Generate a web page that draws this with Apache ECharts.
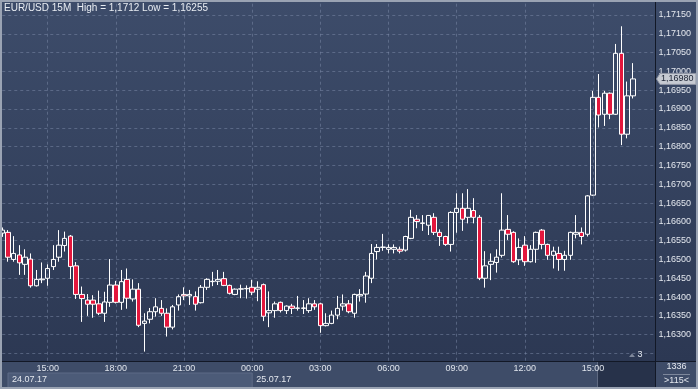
<!DOCTYPE html>
<html><head><meta charset="utf-8">
<script src="https://cdn.jsdelivr.net/npm/echarts@6/dist/echarts.min.js"></script>
<style>html,body{margin:0;padding:0;background:#3e4c68;}#c{width:698px;height:389px;}</style>
</head><body><div id="c"></div>
<script>
// ---- data ----
const startHour = 13;          // first candle 24.07.17 13:00
const stepMinutes = 15;
const slotCount = 116;         // 112 candles + 4 empty slots on the right
const opens = [1.16570,1.16572,1.16500,1.16512,1.16487,1.16501,1.16430,1.16446,1.16450,1.16481,
1.16506,1.16537,1.16562,1.16483,1.16407,1.16392,1.16392,1.16382,1.16357,1.16386,
1.16432,1.16386,1.16447,1.16395,1.16421,1.16330,1.16341,1.16361,1.16370,1.16357,
1.16320,1.16379,1.16407,1.16403,1.16401,1.16385,1.16426,1.16441,1.16442,1.16449,
1.16431,1.16407,1.16421,1.16422,1.16426,1.16421,1.16433,1.16358,1.16364,1.16386,
1.16364,1.16376,1.16370,1.16370,1.16364,1.16382,1.16382,1.16324,1.16330,1.16352,
1.16376,1.16382,1.16357,1.16403,1.16408,1.16450,1.16521,1.16532,1.16527,1.16527,
1.16527,1.16525,1.16556,1.16607,1.16596,1.16591,1.16612,1.16572,1.16561,1.16540,
1.16625,1.16636,1.16612,1.16630,1.16612,1.16450,1.16487,1.16492,1.16511,1.16580,
1.16572,1.16499,1.16538,1.16494,1.16527,1.16578,1.16540,1.16511,1.16516,1.16500,
1.16511,1.16567,1.16572,1.16567,1.16671,1.16931,1.16886,1.16942,1.16886,1.17048,
1.16833,1.16935];
const closes = [1.16578,1.16506,1.16516,1.16491,1.16506,1.16430,1.16447,1.16448,1.16476,1.16500,
1.16538,1.16556,1.16481,1.16407,1.16396,1.16381,1.16381,1.16357,1.16387,1.16432,
1.16386,1.16441,1.16397,1.16421,1.16325,1.16336,1.16361,1.16374,1.16357,1.16320,
1.16374,1.16401,1.16403,1.16407,1.16381,1.16426,1.16447,1.16442,1.16447,1.16431,
1.16410,1.16421,1.16422,1.16423,1.16413,1.16426,1.16349,1.16364,1.16382,1.16364,
1.16376,1.16370,1.16371,1.16371,1.16382,1.16374,1.16324,1.16330,1.16352,1.16370,
1.16382,1.16361,1.16407,1.16407,1.16456,1.16516,1.16532,1.16533,1.16532,1.16532,
1.16522,1.16561,1.16612,1.16601,1.16597,1.16617,1.16572,1.16561,1.16540,1.16625,
1.16636,1.16607,1.16636,1.16612,1.16450,1.16483,1.16495,1.16506,1.16578,1.16567,
1.16494,1.16532,1.16494,1.16527,1.16572,1.16540,1.16511,1.16522,1.16500,1.16511,
1.16572,1.16572,1.16561,1.16669,1.16931,1.16884,1.16942,1.16886,1.17048,1.16833,
1.16935,1.16980];
const lows = [1.16560,1.16494,1.16494,1.16459,1.16459,1.16425,1.16428,1.16437,1.16430,1.16472,
1.16494,1.16521,1.16448,1.16395,1.16334,1.16350,1.16345,1.16352,1.16334,1.16374,
1.16383,1.16366,1.16369,1.16388,1.16320,1.16255,1.16330,1.16348,1.16350,1.16295,
1.16314,1.16364,1.16392,1.16379,1.16364,1.16383,1.16419,1.16429,1.16432,1.16429,
1.16407,1.16405,1.16397,1.16396,1.16405,1.16389,1.16336,1.16320,1.16345,1.16359,
1.16355,1.16355,1.16364,1.16355,1.16358,1.16366,1.16305,1.16322,1.16328,1.16341,
1.16364,1.16357,1.16345,1.16388,1.16385,1.16437,1.16500,1.16523,1.16516,1.16516,
1.16516,1.16521,1.16554,1.16583,1.16576,1.16565,1.16565,1.16536,1.16536,1.16521,
1.16571,1.16576,1.16596,1.16596,1.16445,1.16425,1.16445,1.16465,1.16505,1.16552,
1.16491,1.16485,1.16483,1.16492,1.16491,1.16527,1.16499,1.16476,1.16470,1.16470,
1.16499,1.16556,1.16540,1.16561,1.16669,1.16851,1.16855,1.16873,1.16884,1.16804,
1.16822,1.16928];
const highs = [1.16585,1.16578,1.16562,1.16538,1.16527,1.16516,1.16472,1.16492,1.16487,1.16538,
1.16578,1.16574,1.16565,1.16493,1.16428,1.16408,1.16405,1.16417,1.16414,1.16501,
1.16443,1.16472,1.16476,1.16447,1.16437,1.16357,1.16371,1.16397,1.16392,1.16370,
1.16379,1.16407,1.16426,1.16419,1.16415,1.16432,1.16450,1.16467,1.16472,1.16467,
1.16433,1.16423,1.16433,1.16431,1.16446,1.16442,1.16436,1.16415,1.16388,1.16388,
1.16378,1.16382,1.16403,1.16392,1.16397,1.16392,1.16385,1.16357,1.16364,1.16403,
1.16407,1.16392,1.16409,1.16421,1.16467,1.16541,1.16541,1.16568,1.16540,1.16540,
1.16534,1.16563,1.16632,1.16618,1.16618,1.16618,1.16623,1.16580,1.16563,1.16628,
1.16676,1.16676,1.16687,1.16663,1.16618,1.16522,1.16516,1.16527,1.16676,1.16618,
1.16575,1.16556,1.16562,1.16538,1.16574,1.16581,1.16542,1.16534,1.16534,1.16523,
1.16574,1.16618,1.16585,1.16671,1.16948,1.16993,1.16948,1.16944,1.17073,1.17120,
1.16973,1.17022];
const yTicks = [1.1630,1.1635,1.1640,1.1645,1.1650,1.1655,1.1660,1.1665,1.1670,1.1675,
1.1680,1.1685,1.1690,1.1695,1.1700,1.1705,1.1710,1.1715];
const timeTicks = ['15:00','18:00','21:00','00:00','03:00','06:00','09:00','12:00'];
const dateLabels = ['24.07.17','25.07.17'];
const titleText = 'EUR/USD 15M  High = 1,1712 Low = 1,16255';
const lastPrice = closes[closes.length - 1];
const barCount = 1336, barsShown = 115, scaleNote = '3';

// ---- build ----
function pad(n){return (n<10?'0':'')+n;}
const categories = [];
for (let i = 0; i < slotCount; i++) {
  const m = startHour*60 + i*stepMinutes;
  categories.push(pad(Math.floor(m/60)%24) + ':' + pad(m%60));
}
const candles = opens.map((o,i)=>[o, closes[i], lows[i], highs[i]]);
const fmtPrice = v => v.toFixed(5).replace('.', ',');
const isTick = v => yTicks.some(t => Math.abs(t - v) < 1e-7);
const isTimeTick = (idx, val) => timeTicks.indexOf(categories[idx]) >= 0;

const Y_MIN = 1.1623, Y_MAX = 1.1718, Y_STEP = 0.0001;
const GRID_COLOR = 'rgba(125,140,170,0.5)';
const NONE = 'rgba(0,0,0,0)';
// split lines every Y_STEP from Y_MIN; only those on a yTicks value are coloured
const splitColors = [];
for (let k = 0; k < 5; k++) splitColors.push(isTick(+(Y_MIN + k*Y_STEP).toFixed(4)) || isTick(+(Y_MIN + (k+5)*Y_STEP).toFixed(4)) ? GRID_COLOR : NONE);

const FONT = 'Liberation Sans';
const chart = echarts.init(document.getElementById('c'), null, {renderer:'canvas'});
chart.setOption({
  animation: false,
  backgroundColor: '#3e4c68',
  grid: {left: 2.26, right: 42.5, top: 3.7, bottom: 28, containLabel: false, outerBoundsMode: 'none'},
  xAxis: {
    type: 'category', data: categories, boundaryGap: false,
    axisLine: {show: false}, axisTick: {show: false},
    axisLabel: {interval: isTimeTick, color: '#dfe4ec', fontSize: 9, fontFamily: FONT, margin: 3},
    splitLine: {show: true, interval: isTimeTick, lineStyle: {color: GRID_COLOR, type: [3,3], width: 1}}
  },
  yAxis: {
    type: 'value', position: 'right', min: Y_MIN, max: Y_MAX, interval: Y_STEP,
    axisLine: {show: false}, axisTick: {show: false},
    splitLine: {show: true, lineStyle: {color: splitColors, type: [3,3], width: 1}},
    axisLabel: {color: '#e3e7ee', fontSize: 9, fontFamily: FONT, margin: 3,
      formatter: v => isTick(v) ? fmtPrice(v) : ''}
  },
  series: [{
    type: 'candlestick', data: candles, barWidth: 5, z: 2,
    itemStyle: {color: NONE, color0: '#e3173d', borderColor: '#ffffff', borderColor0: '#ffffff', borderWidth: 1}
  }]
});

const tagY = chart.convertToPixel({yAxisIndex: 0}, lastPrice);
const dayX = chart.convertToPixel({xAxisIndex: 0}, categories.indexOf('00:00'));
chart.setOption({
  graphic: [
    {type:'rect', z:-10, silent:true, shape:{x:0,y:0,width:698,height:361},
      style:{fill: new echarts.graphic.LinearGradient(0,0,0,1,[{offset:0,color:'#3d4c6a'},{offset:1,color:'#2c3853'}])}},
    {type:'rect', z:-9, silent:true, shape:{x:0,y:361,width:698,height:28}, style:{fill:'#3e4c68'}},
    {type:'rect', z:-8, silent:true, shape:{x:8,y:373,width:dayX-8,height:15}, style:{fill:'#4c5b78', stroke:'#5d6b86', lineWidth:1}},
    {type:'rect', z:-8, silent:true, shape:{x:597,y:361,width:58,height:27}, style:{fill:'#27324a'}},
    {type:'line', z:-7, silent:true, shape:{x1:597.5,y1:361,x2:597.5,y2:388}, style:{stroke:'#5f6a82', lineWidth:1}},
    {type:'line', z:5, silent:true, shape:{x1:0,y1:361.5,x2:698,y2:361.5}, style:{stroke:'#121826', lineWidth:1}},
    {type:'line', z:5, silent:true, shape:{x1:655.5,y1:0,x2:655.5,y2:389}, style:{stroke:'#121826', lineWidth:1}},
    {type:'text', z:6, silent:true, x:12, y:380, style:{text:dateLabels[0], fill:'#e3e7ee', font:'9px '+FONT, verticalAlign:'middle'}},
    {type:'text', z:6, silent:true, x:dayX+4, y:380, style:{text:dateLabels[1], fill:'#e3e7ee', font:'9px '+FONT, verticalAlign:'middle'}},
    {type:'text', z:6, silent:true, x:676.5, y:367, style:{text:String(barCount), fill:'#e3e7ee', font:'9px '+FONT, align:'center', verticalAlign:'middle'}},
    {type:'line', z:6, silent:true, shape:{x1:663,y1:374.5,x2:690,y2:374.5}, style:{stroke:'#7d879b', lineWidth:1}},
    {type:'text', z:6, silent:true, x:676.5, y:381, style:{text:'>'+barsShown+'<', fill:'#e3e7ee', font:'9px '+FONT, align:'center', verticalAlign:'middle'}},
    {type:'polygon', z:6, silent:true, shape:{points:[[629,357],[635,357],[632,353.5]]}, style:{fill:'#7f889b'}},
    {type:'text', z:6, silent:true, x:640, y:355, style:{text:scaleNote, fill:'#e3e7ee', font:'9px '+FONT, align:'center', verticalAlign:'middle'}},
    {type:'text', z:6, silent:true, x:4, y:8, style:{text:titleText, fill:'#e9edf3', font:'10px '+FONT, verticalAlign:'middle'}},
    {type:'polygon', z:10, silent:true, shape:{points:[[656.5,tagY],[660,tagY-5.5],[696,tagY-5.5],[696,tagY+5.5],[660,tagY+5.5]]},
      style:{fill:'#c6cad2', stroke:'#8d94a3', lineWidth:1}},
    {type:'text', z:11, silent:true, x:661, y:tagY, style:{text:fmtPrice(lastPrice), fill:'#1b2233', font:'9px '+FONT, verticalAlign:'middle'}},
    {type:'rect', z:20, silent:true, shape:{x:1,y:1,width:696,height:387}, style:{fill:'none', stroke:'#9aa3b3', lineWidth:2}}
  ]
});
</script></body></html>
